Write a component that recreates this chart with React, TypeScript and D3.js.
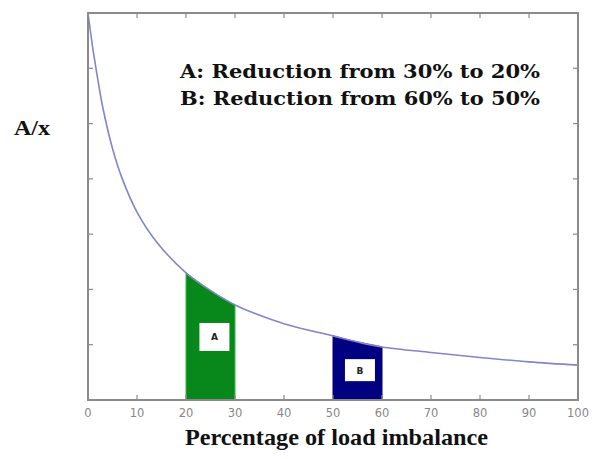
import React from "react";
import * as d3 from "d3";

// curve A/x (x = % load imbalance, y in tick units)
const curveX = [0, 1, 2, 3, 5, 7, 10, 14, 20, 25, 30, 40, 50, 55, 60, 70, 80, 90, 100];
const curveY = [7.0, 6.35, 5.8, 5.3, 4.55, 4.0, 3.4, 2.86, 2.3, 1.98, 1.72, 1.38, 1.16, 1.05, 0.96, 0.86, 0.77, 0.69, 0.63];

const xTicks = [0, 10, 20, 30, 40, 50, 60, 70, 80, 90, 100];
const yTicks = [0, 1, 2, 3, 4, 5, 6, 7];

const regions = [
  { name: "A", from: 20, to: 30, color: "#08881a", edge: "#30c040", labelX: 25.8, labelY: 1.14, bw: 30, bh: 28 },
  { name: "B", from: 50, to: 60, color: "#000080", edge: "#000080", labelX: 55.5, labelY: 0.54, bw: 30, bh: 22 },
];

const notes = ["A: Reduction from 30% to 20%", "B: Reduction from 60% to 50%"];

export default function App() {
  const W = 593, H = 459;
  const m = { left: 88, right: 15, top: 13, bottom: 59 };
  const x = d3.scaleLinear().domain([0, 100]).range([m.left, W - m.right]);
  const y = d3.scaleLinear().domain([0, 7]).range([H - m.bottom, m.top]);

  const pts = curveX.map((v, i) => ({ x: v, y: curveY[i] }));
  const crv = d3.curveCatmullRom.alpha(0.5);
  const line = d3.line<any>().x(d => x(d.x)).y(d => y(d.y)).curve(crv);
  const area = d3.area<any>().x(d => x(d.x)).y0(y(0)).y1(d => y(d.y)).curve(crv);

  const axisCol = "#8a8a8a";
  const tk = 5;

  return (
    <svg width={W} height={H} style={{ position: "absolute", left: 0, top: 0, background: "#fff" }}>
      {regions.map(r => (
        <path key={r.name} d={area(pts.filter(p => p.x >= r.from && p.x <= r.to)) || ""}
          fill={r.color} stroke={r.edge} strokeWidth={1} />
      ))}
      <path d={line(pts) || ""} fill="none" stroke="#8484cc" strokeWidth={1.6} />
      {regions.map(r => (
        <g key={"l" + r.name}>
          <rect x={x(r.labelX) - r.bw / 2} y={y(r.labelY) - r.bh / 2} width={r.bw} height={r.bh} fill="#fff" />
          <text x={x(r.labelX)} y={y(r.labelY) + 3.5} textAnchor="middle" fontFamily="DejaVu Sans" fontWeight="bold"
            fontSize={9} fill="#222">{r.name}</text>
        </g>
      ))}

      {/* frame with inward ticks */}
      <rect x={x(0)} y={y(7)} width={x(100) - x(0)} height={y(0) - y(7)} fill="none" stroke={axisCol} strokeWidth={2} />
      {xTicks.map(t => (
        <g key={"x" + t}>
          <line x1={x(t)} x2={x(t)} y1={y(0)} y2={y(0) - tk} stroke={axisCol} strokeWidth={1.2} />
          <line x1={x(t)} x2={x(t)} y1={y(7)} y2={y(7) + tk} stroke={axisCol} strokeWidth={1.2} />
          <text x={x(t)} y={y(0) + 17} textAnchor="middle" fontFamily="DejaVu Sans" fontSize={11.5} fill="#888">{t}</text>
        </g>
      ))}
      {yTicks.map(t => (
        <g key={"y" + t}>
          <line x1={x(0)} x2={x(0) + tk} y1={y(t)} y2={y(t)} stroke={axisCol} strokeWidth={1.2} />
          <line x1={x(100)} x2={x(100) - tk} y1={y(t)} y2={y(t)} stroke={axisCol} strokeWidth={1.2} />
        </g>
      ))}

      {notes.map((n, i) => (
        <text key={n} x={180} y={78 + i * 27} fontFamily="DejaVu Serif" fontWeight="bold" fontSize={18}
          textLength={360} lengthAdjust="spacingAndGlyphs" fill="#111">{n}</text>
      ))}
      <text x={14} y={135} fontFamily="Liberation Serif" fontWeight="bold" fontSize={21} textLength={36}
        lengthAdjust="spacingAndGlyphs" fill="#111">A/x</text>
      <text x={185} y={445} fontFamily="Liberation Serif" fontWeight="bold" fontSize={23} textLength={303}
        lengthAdjust="spacingAndGlyphs" fill="#111">Percentage of load imbalance</text>
    </svg>
  );
}
